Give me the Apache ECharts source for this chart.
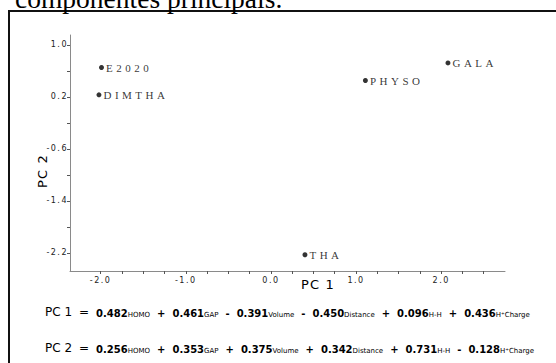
<!DOCTYPE html>
<html><head><meta charset="utf-8">
<script src="https://cdn.jsdelivr.net/npm/echarts@6/dist/echarts.min.js"></script>
<style>
html,body{margin:0;padding:0;background:#fff;overflow:hidden;}
#c{width:556px;height:363px;}
text[style*="Times New Roman"]{letter-spacing:3.5px;}
text[style*="Verdana"]{letter-spacing:1.5px;}
text[style*="Tahoma"]{letter-spacing:1.2px;}
</style></head><body><div id="c"></div>
<script>
const names = ['E2020', 'DIMTHA', 'PHYSO', 'GALA', 'THA'];
const pc1 = [-1.99, -2.02, 1.11, 2.08, 0.40];
const pc2 = [0.65, 0.23, 0.45, 0.72, -2.23];
const xTickValues = [-2, -1.75, -1.5, -1.25, -1, -0.75, -0.5, -0.25, 0, 0.25, 0.5, 0.75, 1, 1.25, 1.5, 1.75, 2, 2.25, 2.5];
const xLabelValues = [-2, -1, 0, 1, 2];
const yTickValues = [-2.2, -1.8, -1.4, -1.0, -0.6, -0.2, 0.2, 0.6, 1.0];
const yLabelValues = [-2.2, -1.4, -0.6, 0.2, 1.0];
const termNames = ['HOMO', 'GAP', 'Volume', 'Distance', 'H-H', 'H\u207ACharge'];
const pc1Signs = ['', '+', '-', '-', '+', '+'];
const pc1Coefs = ['0.482', '0.461', '0.391', '0.450', '0.096', '0.436'];
const pc2Signs = ['', '+', '+', '+', '+', '-'];
const pc2Coefs = ['0.256', '0.353', '0.375', '0.342', '0.731', '0.128'];

function eqText(label, signs, coefs) {
  let s = '{t|' + label + '}{eq|=}';
  for (let i = 0; i < coefs.length; i++) {
    if (signs[i]) s += '{op|' + signs[i] + '}';
    s += '{n|' + coefs[i] + '}{s|' + termNames[i] + '}';
  }
  return s;
}
const eqFont = "'DejaVu Sans', sans-serif";
const eqRich = {
  t: {fontFamily: eqFont, fontSize: 12, color: '#000', verticalAlign: 'bottom'},
  eq: {fontFamily: eqFont, fontSize: 12, color: '#000', padding: [0, 7], verticalAlign: 'bottom'},
  op: {fontFamily: eqFont, fontSize: 10, fontWeight: 'bold', color: '#000', padding: [0, 7], verticalAlign: 'bottom'},
  n: {fontFamily: eqFont, fontSize: 10, fontWeight: 'bold', color: '#000', verticalAlign: 'bottom'},
  s: {fontFamily: eqFont, fontSize: 7, color: '#000', verticalAlign: 'bottom'}
};

const chart = echarts.init(document.getElementById('c'), null, {renderer: 'svg'});
const axisFont = "Verdana, 'DejaVu Sans'";
chart.setOption({
  animation: false,
  backgroundColor: '#fff',
  grid: {left: 70, right: 51, top: 35, bottom: 92, outerBoundsMode: 'none'},
  xAxis: {
    type: 'value', min: -2.36, max: 2.75,
    splitLine: {show: false},
    axisLine: {onZero: false, lineStyle: {color: '#8a8a8a', width: 1}},
    axisTick: {customValues: xTickValues, length: 3, lineStyle: {color: '#555'}},
    axisLabel: {customValues: xLabelValues, formatter: v => v.toFixed(1), fontFamily: axisFont, fontSize: 8, color: '#222', margin: 5}
  },
  yAxis: {
    type: 'value', min: -2.48, max: 1.15,
    splitLine: {show: false},
    axisLine: {show: true, onZero: false, lineStyle: {color: '#8a8a8a', width: 1}},
    axisTick: {show: true, customValues: yTickValues, length: 3, lineStyle: {color: '#555'}},
    axisLabel: {customValues: yLabelValues, formatter: v => v.toFixed(1), fontFamily: axisFont, fontSize: 8, color: '#222', margin: 2}
  },
  series: [{
    type: 'scatter',
    symbol: 'circle',
    symbolSize: 5,
    itemStyle: {color: '#000'},
    label: {
      show: true, position: 'right', distance: 2,
      formatter: p => p.name,
      fontFamily: "'Times New Roman', 'Liberation Serif'", fontSize: 11, color: '#000'
    },
    data: names.map((n, i) => ({name: n, value: [pc1[i], pc2[i]]}))
  }],
  graphic: [
    {type: 'rect', shape: {x: 9, y: 11, width: 620, height: 420}, style: {fill: 'none', stroke: '#111', lineWidth: 2}, silent: true},
    {type: 'text', x: 15, y: -2, style: {text: 'componentes principais.', font: "27.5px 'Liberation Serif'", fill: '#000', verticalAlign: 'middle'}},
    {type: 'text', x: 318, y: 284, style: {text: 'PC 1', font: "13px Tahoma, 'DejaVu Sans'", fill: '#000', align: 'center', verticalAlign: 'middle'}},
    {type: 'text', x: 42, y: 171, rotation: Math.PI / 2, style: {text: 'PC 2', font: "13px Tahoma, 'DejaVu Sans'", fill: '#000', align: 'center', verticalAlign: 'middle'}},
    {type: 'text', x: 45, y: 312, style: {text: eqText('PC 1', pc1Signs, pc1Coefs), rich: eqRich, align: 'left', verticalAlign: 'middle'}},
    {type: 'text', x: 45, y: 348, style: {text: eqText('PC 2', pc2Signs, pc2Coefs), rich: eqRich, align: 'left', verticalAlign: 'middle'}}
  ]
});
</script></body></html>
